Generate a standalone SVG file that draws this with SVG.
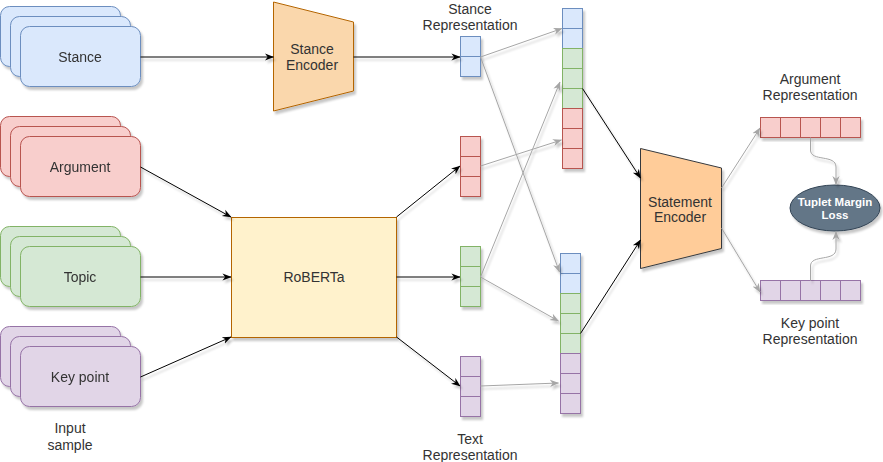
<svg xmlns="http://www.w3.org/2000/svg" width="883" height="462" viewBox="0 0 883 462">
<defs>
<filter id="sh" x="-10%" y="-10%" width="130%" height="130%">
<feDropShadow dx="2" dy="3" stdDeviation="0.8" flood-color="#000" flood-opacity="0.22"/>
</filter>
<marker id="ab" viewBox="0 0 10 10" refX="9.5" refY="5" markerWidth="9" markerHeight="9" markerUnits="userSpaceOnUse" orient="auto">
<path d="M0,1 L10,5 L0,9 L3,5 z" fill="#000"/>
</marker>
<marker id="ag" viewBox="0 0 10 10" refX="9.5" refY="5" markerWidth="9" markerHeight="9" markerUnits="userSpaceOnUse" orient="auto">
<path d="M0,1 L10,5 L0,9 L3,5 z" fill="#a6a6a6"/>
</marker>
</defs>
<style>
text{font-family:"Liberation Sans",Arial,sans-serif;font-size:14px;fill:#333;text-anchor:middle;dominant-baseline:central}
.blue{fill:#dae8fc;stroke:#6c8ebf}
.red{fill:#f8cecc;stroke:#b85450}
.green{fill:#d5e8d4;stroke:#82b366}
.purple{fill:#e1d5e7;stroke:#9673a6}
.node{filter:url(#sh)}
.bk{fill:none;stroke:#000;stroke-width:1;marker-end:url(#ab)}
.gr{fill:none;stroke:#a6a6a6;stroke-width:1;marker-end:url(#ag)}
.loss{font-size:11.5px;font-weight:bold;fill:#fff}
</style>

<g id="stance-input" class="node">
<rect class="blue" x="0.5" y="6.5" width="120" height="60" rx="9"/>
<rect class="blue" x="10.5" y="16.5" width="120" height="60" rx="9"/>
<rect class="blue" x="20.5" y="26.5" width="120" height="60" rx="9"/>
<text x="80" y="56.5">Stance</text>
</g>
<g id="argument-input" class="node">
<rect class="red" x="0.5" y="116.5" width="120" height="60" rx="9"/>
<rect class="red" x="10.5" y="126.5" width="120" height="60" rx="9"/>
<rect class="red" x="20.5" y="136.5" width="120" height="60" rx="9"/>
<text x="80" y="166.5">Argument</text>
</g>
<g id="topic-input" class="node">
<rect class="green" x="0.5" y="226.5" width="120" height="60" rx="9"/>
<rect class="green" x="10.5" y="236.5" width="120" height="60" rx="9"/>
<rect class="green" x="20.5" y="246.5" width="120" height="60" rx="9"/>
<text x="80" y="276.5">Topic</text>
</g>
<g id="keypoint-input" class="node">
<rect class="purple" x="0.5" y="326.5" width="120" height="60" rx="9"/>
<rect class="purple" x="10.5" y="336.5" width="120" height="60" rx="9"/>
<rect class="purple" x="20.5" y="346.5" width="120" height="60" rx="9"/>
<text x="80" y="376.5">Key point</text>
</g>
<g id="input-label">
<text x="70" y="428">Input</text>
<text x="70" y="445">sample</text>
</g>

<g id="stance-encoder">
<polygon class="node" points="273.5,2 353.5,22 353.5,91 273.5,111" fill="#fad7ac" stroke="#b46504"/>
<text x="312" y="49">Stance</text>
<text x="312" y="65">Encoder</text>
</g>

<g id="roberta">
<rect class="node" x="231.5" y="217.5" width="165" height="120" fill="#fff2cc" stroke="#b46504"/>
<text x="314" y="277">RoBERTa</text>
</g>

<g id="stance-rep">
<g class="node">
<rect class="blue" x="460.5" y="36.5" width="20" height="20"/>
<rect class="blue" x="460.5" y="56.5" width="20" height="20"/>
</g>
<text x="470" y="9">Stance</text>
<text x="470" y="25">Representation</text>
</g>
<g id="argument-rep-text">
<g class="node">
<rect class="red" x="460.5" y="136.5" width="20" height="20"/>
<rect class="red" x="460.5" y="156.5" width="20" height="20"/>
<rect class="red" x="460.5" y="176.5" width="20" height="20"/>
</g>
</g>
<g id="topic-rep-text">
<g class="node">
<rect class="green" x="460.5" y="246.5" width="20" height="20"/>
<rect class="green" x="460.5" y="266.5" width="20" height="20"/>
<rect class="green" x="460.5" y="286.5" width="20" height="20"/>
</g>
</g>
<g id="keypoint-rep-text">
<g class="node">
<rect class="purple" x="460.5" y="356.5" width="20" height="20"/>
<rect class="purple" x="460.5" y="376.5" width="20" height="20"/>
<rect class="purple" x="460.5" y="396.5" width="20" height="20"/>
</g>
<text x="470" y="439">Text</text>
<text x="470" y="455">Representation</text>
</g>

<g id="argument-statement" class="node">
<rect class="blue" x="562.5" y="8.5" width="20" height="20"/>
<rect class="blue" x="562.5" y="28.5" width="20" height="20"/>
<rect class="green" x="562.5" y="48.5" width="20" height="20"/>
<rect class="green" x="562.5" y="68.5" width="20" height="20"/>
<rect class="green" x="562.5" y="88.5" width="20" height="20"/>
<rect class="red" x="562.5" y="108.5" width="20" height="20"/>
<rect class="red" x="562.5" y="128.5" width="20" height="20"/>
<rect class="red" x="562.5" y="148.5" width="20" height="20"/>
</g>
<g id="keypoint-statement" class="node">
<rect class="blue" x="560.5" y="253.5" width="20" height="20"/>
<rect class="blue" x="560.5" y="273.5" width="20" height="20"/>
<rect class="green" x="560.5" y="293.5" width="20" height="20"/>
<rect class="green" x="560.5" y="313.5" width="20" height="20"/>
<rect class="green" x="560.5" y="333.5" width="20" height="20"/>
<rect class="purple" x="560.5" y="353.5" width="20" height="20"/>
<rect class="purple" x="560.5" y="373.5" width="20" height="20"/>
<rect class="purple" x="560.5" y="393.5" width="20" height="20"/>
</g>

<g id="statement-encoder">
<polygon class="node" points="640.5,148.5 721.5,168 721.5,248.5 640.5,268.5" fill="#ffcc99" stroke="#36393d"/>
<text x="680" y="202">Statement</text>
<text x="680" y="217">Encoder</text>
</g>

<g id="argument-output" class="node">
<rect class="red" x="760.5" y="117.5" width="20" height="20"/>
<rect class="red" x="780.5" y="117.5" width="20" height="20"/>
<rect class="red" x="800.5" y="117.5" width="20" height="20"/>
<rect class="red" x="820.5" y="117.5" width="20" height="20"/>
<rect class="red" x="840.5" y="117.5" width="20" height="20"/>
</g>
<g id="argument-output-label">
<text x="810" y="79">Argument</text>
<text x="810" y="95">Representation</text>
</g>
<g id="keypoint-output" class="node">
<rect class="purple" x="760.5" y="280.5" width="20" height="20"/>
<rect class="purple" x="780.5" y="280.5" width="20" height="20"/>
<rect class="purple" x="800.5" y="280.5" width="20" height="20"/>
<rect class="purple" x="820.5" y="280.5" width="20" height="20"/>
<rect class="purple" x="840.5" y="280.5" width="20" height="20"/>
</g>
<g id="keypoint-output-label">
<text x="810" y="323">Key point</text>
<text x="810" y="339">Representation</text>
</g>

<g id="tuplet-loss">
<ellipse class="node" cx="835" cy="208" rx="45" ry="23" fill="#647687" stroke="#314354"/>
<text class="loss" x="835" y="202">Tuplet Margin</text>
<text class="loss" x="835" y="215">Loss</text>
</g>

<g id="connectors" class="node">
<line class="bk" x1="140.5" y1="57" x2="273.5" y2="57"/>
<line class="bk" x1="140.5" y1="167" x2="231" y2="217"/>
<line class="bk" x1="140.5" y1="277" x2="231" y2="277"/>
<line class="bk" x1="140.5" y1="377" x2="231" y2="337"/>
<line class="bk" x1="353.5" y1="57" x2="460" y2="57"/>
<line class="bk" x1="396.5" y1="217" x2="460" y2="166"/>
<line class="bk" x1="396.5" y1="277" x2="460" y2="277"/>
<line class="bk" x1="396.5" y1="337" x2="460" y2="386"/>
<line class="gr" x1="480.5" y1="57" x2="562" y2="28.5"/>
<line class="gr" x1="480.5" y1="57" x2="559.5" y2="272"/>
<line class="gr" x1="480.5" y1="166" x2="561.5" y2="140"/>
<line class="gr" x1="480.5" y1="277" x2="560" y2="82"/>
<line class="gr" x1="480.5" y1="277" x2="558.5" y2="321"/>
<line class="gr" x1="480.5" y1="386" x2="558.5" y2="383"/>
<line class="bk" x1="582.5" y1="88.5" x2="640.5" y2="178"/>
<line class="bk" x1="580.5" y1="333.5" x2="640.5" y2="240"/>
<line class="gr" x1="721.5" y1="188" x2="760" y2="128"/>
<line class="gr" x1="721.5" y1="228" x2="760" y2="292"/>
<path class="gr" d="M810.5,137.5 L810.5,150 C810.5,162 836,154 836,167 L836,184.5"/>
<path class="gr" d="M810.5,280.5 L810.5,266 C810.5,254 836,262 836,249 L836,231.5"/>
</g>
</svg>
